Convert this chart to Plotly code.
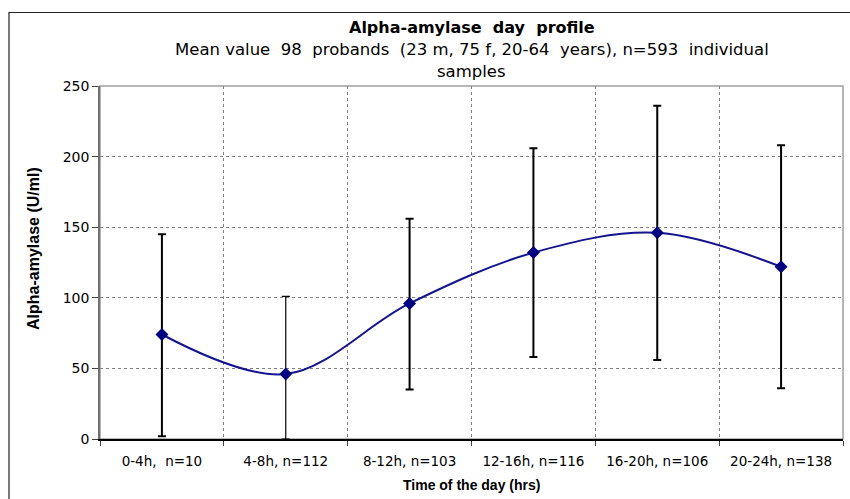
import plotly.graph_objects as go

categories = ["0-4h,  n=10", "4-8h, n=112", "8-12h, n=103", "12-16h, n=116", "16-20h, n=106", "20-24h, n=138"]
mean_values = [74, 46, 96, 132, 146, 122]
upper_values = [145, 101, 156, 206, 236, 208]
lower_values = [2, 0, 35, 58, 56, 36]

err_plus = [u - m for u, m in zip(upper_values, mean_values)]
err_minus = [m - l for m, l in zip(mean_values, lower_values)]

thin_idx = [1]
thick_idx = [i for i in range(len(categories)) if i not in thin_idx]

FONT = "Liberation Sans, Arial, sans-serif"
WIDE = "DejaVu Sans, Verdana, sans-serif"
W, H = 850, 499
L, R, T, B = 100, 7, 86, 60
pw, ph = W - L - R, H - T - B

def px(x):
    return (x - L) / pw

def py(y):
    return 1 + (T - y) / ph

fig = go.Figure()

fig.add_trace(go.Scatter(
    x=[categories[i] for i in thick_idx],
    y=[mean_values[i] for i in thick_idx],
    mode="markers", marker=dict(size=1, color="rgba(0,0,0,0)"),
    error_y=dict(type="data", symmetric=False,
                 array=[err_plus[i] for i in thick_idx],
                 arrayminus=[err_minus[i] for i in thick_idx],
                 color="black", thickness=2, width=4),
    showlegend=False, hoverinfo="skip"))
fig.add_trace(go.Scatter(
    x=[categories[i] for i in thin_idx],
    y=[mean_values[i] for i in thin_idx],
    mode="markers", marker=dict(size=1, color="rgba(0,0,0,0)"),
    error_y=dict(type="data", symmetric=False,
                 array=[err_plus[i] for i in thin_idx],
                 arrayminus=[err_minus[i] for i in thin_idx],
                 color="black", thickness=1.2, width=4),
    showlegend=False, hoverinfo="skip"))
fig.add_trace(go.Scatter(
    x=categories, y=mean_values, mode="lines+markers",
    line=dict(color="#14148f", width=2, shape="spline", smoothing=1.0),
    marker=dict(symbol="diamond", size=10, color="#000080"),
    showlegend=False))

fig.update_layout(
    width=W, height=H,
    margin=dict(l=L, r=R, t=T, b=B),
    paper_bgcolor="white", plot_bgcolor="white",
    font=dict(family=FONT, color="black"),
    xaxis=dict(
        type="category", categoryorder="array", categoryarray=categories,
        tickson="boundaries",
        showgrid=True, gridcolor="#808080", griddash="dot", gridwidth=1,
        showline=True, linecolor="black", linewidth=2,
        ticks="outside", ticklen=5, tickcolor="#404040",
        tickfont=dict(size=13.5, family=WIDE), ticklabelstandoff=9,
        range=[-0.5, 5.5], zeroline=False,
    ),
    yaxis=dict(
        range=[0, 250], tickvals=[0, 50, 100, 150, 200, 250],
        showgrid=True, gridcolor="#808080", griddash="dot", gridwidth=1,
        showline=True, linecolor="#707070", linewidth=1.5,
        ticks="outside", ticklen=6, tickcolor="#404040",
        tickfont=dict(size=14, family=WIDE),
        zeroline=False,
    ),
    shapes=[
        dict(type="rect", xref="paper", yref="paper", x0=0, x1=1, y0=0, y1=1,
             line=dict(color="#a0a0a0", width=1.5), layer="below"),
        dict(type="rect", xref="paper", yref="paper",
             x0=px(9), x1=px(852), y0=py(502), y1=py(12.5),
             line=dict(color="#222222", width=1.2), layer="below"),
    ],
    annotations=[
        dict(text="<b>Alpha-amylase  day  profile</b>", xref="paper", yref="paper",
             x=0.5, y=py(27), xanchor="center", yanchor="middle", showarrow=False,
             font=dict(size=16, family=WIDE)),
        dict(text="Mean value  98  probands  (23 m, 75 f, 20-64  years), n=593  individual",
             xref="paper", yref="paper",
             x=0.5, y=py(50), xanchor="center", yanchor="middle", showarrow=False,
             font=dict(size=16.5, family=WIDE)),
        dict(text="samples", xref="paper", yref="paper",
             x=0.5, y=py(72), xanchor="center", yanchor="middle", showarrow=False,
             font=dict(size=16.5, family=WIDE)),
        dict(text="<b>Alpha-amylase (U/ml)</b>", xref="paper", yref="paper",
             x=px(33), y=py(249), xanchor="center", yanchor="middle", showarrow=False,
             textangle=-90, font=dict(size=16, family=FONT)),
        dict(text="<b>Time of the day (hrs)</b>", xref="paper", yref="paper",
             x=0.5, y=py(485), xanchor="center", yanchor="middle", showarrow=False,
             font=dict(size=14, family=FONT)),
    ],
)

fig.write_html("out.html", config={"displayModeBar": False},
               post_script="document.body.style.margin='0';document.body.style.padding='0';")
